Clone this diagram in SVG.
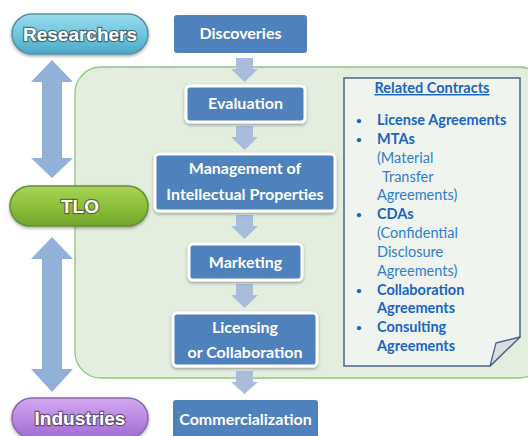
<svg xmlns="http://www.w3.org/2000/svg" width="528" height="436" viewBox="0 0 528 436">
<defs>
<linearGradient id="gCyan" x1="0" y1="0" x2="0" y2="1"><stop offset="0" stop-color="#9adcee"/><stop offset="0.5" stop-color="#6ec6de"/><stop offset="1" stop-color="#4aa9c6"/></linearGradient>
<linearGradient id="gGreen" x1="0" y1="0" x2="0" y2="1"><stop offset="0" stop-color="#a8d455"/><stop offset="0.5" stop-color="#8cc03a"/><stop offset="1" stop-color="#72a52a"/></linearGradient>
<linearGradient id="gPurple" x1="0" y1="0" x2="0" y2="1"><stop offset="0" stop-color="#d3a9f0"/><stop offset="0.5" stop-color="#bb88e3"/><stop offset="1" stop-color="#a06cd0"/></linearGradient>
<filter id="sh" x="-10%" y="-10%" width="120%" height="130%"><feDropShadow dx="0" dy="1.5" stdDeviation="1.5" flood-color="#000" flood-opacity="0.35"/></filter>
</defs>
<style>
.pill text{font-family:"Liberation Sans",Arial,sans-serif;font-weight:bold;font-size:19px;fill:#fff;stroke:#333;stroke-width:2.4;stroke-opacity:0.6;paint-order:stroke;text-anchor:middle}
.box rect{fill:#4f81bd}
.box.in rect{stroke:#fff;stroke-width:3}
.box text{font-family:Lato,"Open Sans",sans-serif;font-weight:bold;font-size:16px;fill:#fff;text-anchor:middle}
.arr{fill:#a9bcdb}
.dbl{fill:#92b1d8}
.rc text{font-family:Lato,"Open Sans",sans-serif;font-size:14.5px;fill:#2f7fd0}
.rc .b{font-weight:bold;fill:#1a66bf}
.rc .u{font-size:10px;font-weight:bold;fill:#1a66bf}
</style>
<rect id="panel" x="75" y="67" width="470" height="311" rx="26" fill="#e3eedf" stroke="#8fc67e" stroke-width="1.3"/>
<g id="connectors">
<path class="dbl" d="M52 60 L73 82 L62 82 L62 158 L73 158 L52 178 L31 158 L42 158 L42 82 L31 82 Z"/>
<path class="dbl" d="M52 237 L73 259 L62 259 L62 369 L73 369 L52 392 L31 369 L42 369 L42 259 L31 259 Z"/>
<path class="arr" d="M236 58 H253 V69 H258 L244.5 82 L231 69 H236 Z"/>
<path class="arr" d="M236 126 H253 V137 H258 L244.5 150 L231 137 H236 Z"/>
<path class="arr" d="M236 215 H253 V226 H258 L244.5 239 L231 226 H236 Z"/>
<path class="arr" d="M236 284 H253 V295 H258 L244.5 308 L231 295 H236 Z"/>
<path class="arr" d="M236 371 H253 V382 H258 L244.5 394 L231 382 H236 Z"/>
</g>
<g id="researchers" class="pill">
<rect x="12" y="14" width="136" height="40" rx="20" fill="url(#gCyan)" stroke="#5d8fa3" stroke-width="1.5" filter="url(#sh)"/>
<text x="80" y="41">Researchers</text>
</g>
<g id="tlo" class="pill">
<rect x="10" y="186" width="138" height="40" rx="20" fill="url(#gGreen)" stroke="#6a8a3a" stroke-width="1.5" filter="url(#sh)"/>
<text x="80" y="213">TLO</text>
</g>
<g id="industries" class="pill">
<rect x="12" y="398" width="136" height="40" rx="20" fill="url(#gPurple)" stroke="#8a6aa8" stroke-width="1.5" filter="url(#sh)"/>
<text x="80" y="425">Industries</text>
</g>
<g id="discoveries" class="box">
<rect x="174" y="15" width="133" height="38" rx="3"/>
<text x="240.5" y="39">Discoveries</text>
</g>
<g id="evaluation" class="box in">
<rect x="186" y="86" width="119" height="36" rx="4" filter="url(#sh)"/>
<text x="245.5" y="109">Evaluation</text>
</g>
<g id="management" class="box in">
<rect x="155" y="154" width="180" height="57" rx="4" filter="url(#sh)"/>
<text x="245" y="174">Management of</text>
<text x="245" y="200">Intellectual Properties</text>
</g>
<g id="marketing" class="box in">
<rect x="189" y="244" width="113" height="36" rx="4" filter="url(#sh)"/>
<text x="245.5" y="268">Marketing</text>
</g>
<g id="licensing" class="box in">
<rect x="173" y="313" width="144" height="53" rx="4" filter="url(#sh)"/>
<text x="245" y="333">Licensing</text>
<text x="245" y="358">or Collaboration</text>
</g>
<g id="commercialization" class="box">
<rect x="173" y="400" width="145" height="40" rx="3"/>
<text x="245.5" y="425">Commercialization</text>
</g>
<g id="related-contracts" class="rc">
<path d="M344 78 H520 V337 L490 366 H344 Z" fill="#eff4ee" stroke="#4a6590" stroke-width="1.5"/>
<path d="M490 366 L496 343 L520 337 Z" fill="#dcdde0" stroke="#4a6590" stroke-width="1.3" stroke-linejoin="round"/>
<text class="b" x="432" y="93" text-anchor="middle" text-decoration="underline">Related Contracts</text>
<text class="u" x="356" y="124">•</text><text class="b" x="377" y="125">License Agreements</text>
<text class="u" x="356" y="143">•</text><text class="b" x="377" y="144">MTAs</text>
<text x="377" y="163">(Material</text>
<text x="382" y="182">Transfer</text>
<text x="377" y="200">Agreements)</text>
<text class="u" x="356" y="218">•</text><text class="b" x="377" y="219">CDAs</text>
<text x="377" y="238">(Confidential</text>
<text x="377" y="257">Disclosure</text>
<text x="377" y="276">Agreements)</text>
<text class="u" x="356" y="294">•</text><text class="b" x="377" y="295">Collaboration</text>
<text class="b" x="377" y="313">Agreements</text>
<text class="u" x="356" y="331">•</text><text class="b" x="377" y="332">Consulting</text>
<text class="b" x="377" y="351">Agreements</text>
</g>
</svg>
